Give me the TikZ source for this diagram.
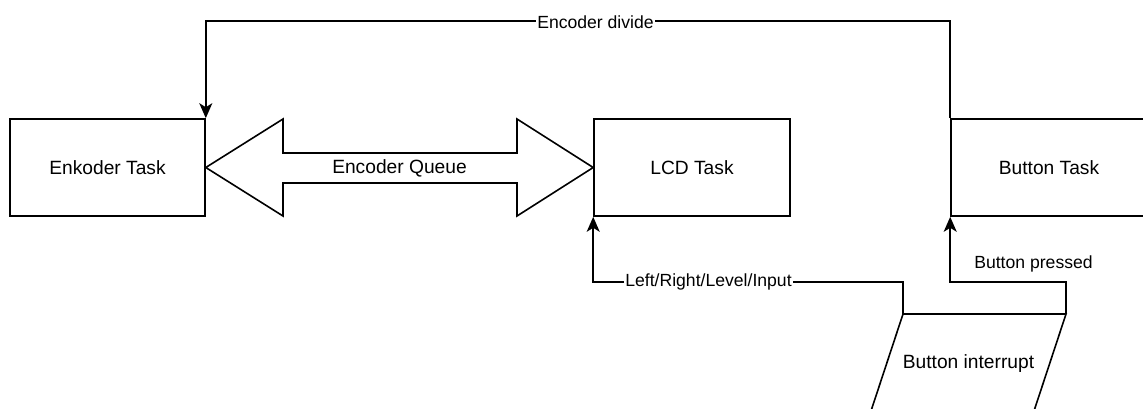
\documentclass[tikz,border=0pt]{standalone}
\usepackage{fontspec}
\setmainfont{Liberation Sans}
\usetikzlibrary{arrows.meta}
\begin{document}
\begin{tikzpicture}[x=1pt,y=-1pt,
  line width=1.6pt,
  task/.style={draw, rectangle, minimum width=196pt, minimum height=97pt, inner sep=0pt, font=\fontsize{19.2}{23}\selectfont},
  lbl/.style={font=\fontsize{17.6}{21}\selectfont, inner sep=1pt},
  txt/.style={font=\fontsize{19.2}{23}\selectfont, inner sep=0pt},
  conn/.style={draw, -{Stealth[length=15pt,width=13pt,inset=4pt]}}
]
\useasboundingbox (0,0) rectangle (1143,408);
\begin{scope}
\clip (0,0) rectangle (1143,408);
\node[task, minimum width=195pt] (enk) at (107.5,167.5) {Enkoder Task};
\node[task] (lcd) at (692,167.5) {LCD Task};
\node[task] (btn) at (1049,167.5) {Button Task};
% double arrow (queue)
\draw[line join=miter] (enk.east) -- (283,119) -- (283,153) -- (517,153) -- (517,119) -- (lcd.west)
  -- (517,216) -- (517,183) -- (283,183) -- (283,216) -- cycle;
\node[txt] (queue) at (399.5,168) {Encoder Queue};
% button interrupt parallelogram
\coordinate (bitl) at (903,314);
\coordinate (bitr) at (1066,314);
\coordinate (bibr) at (1033,414);
\coordinate (bibl) at (870,414);
\draw[line join=miter] (bitl) -- (bitr) -- (bibr) -- (bibl) -- cycle;
\node[txt] (bi) at (968.5,364) {Button interrupt};
% connectors
\draw[conn] (btn.north west) -- ++(0,-97) -| (enk.north east);
\node[lbl, fill=white] (ediv) at (595.5,22) {Encoder divide};
\draw[conn] (bitl) -- ++(0,-32) -| (lcd.south west);
\node[lbl, fill=white] (lrli) at (708.5,282) {Left/Right/Level/Input};
\draw[conn] (bitr) -- ++(0,-32) -| (btn.south west);
\node[lbl] (bp) at (1033.5,264) {Button pressed};
\end{scope}
\end{tikzpicture}
\end{document}
